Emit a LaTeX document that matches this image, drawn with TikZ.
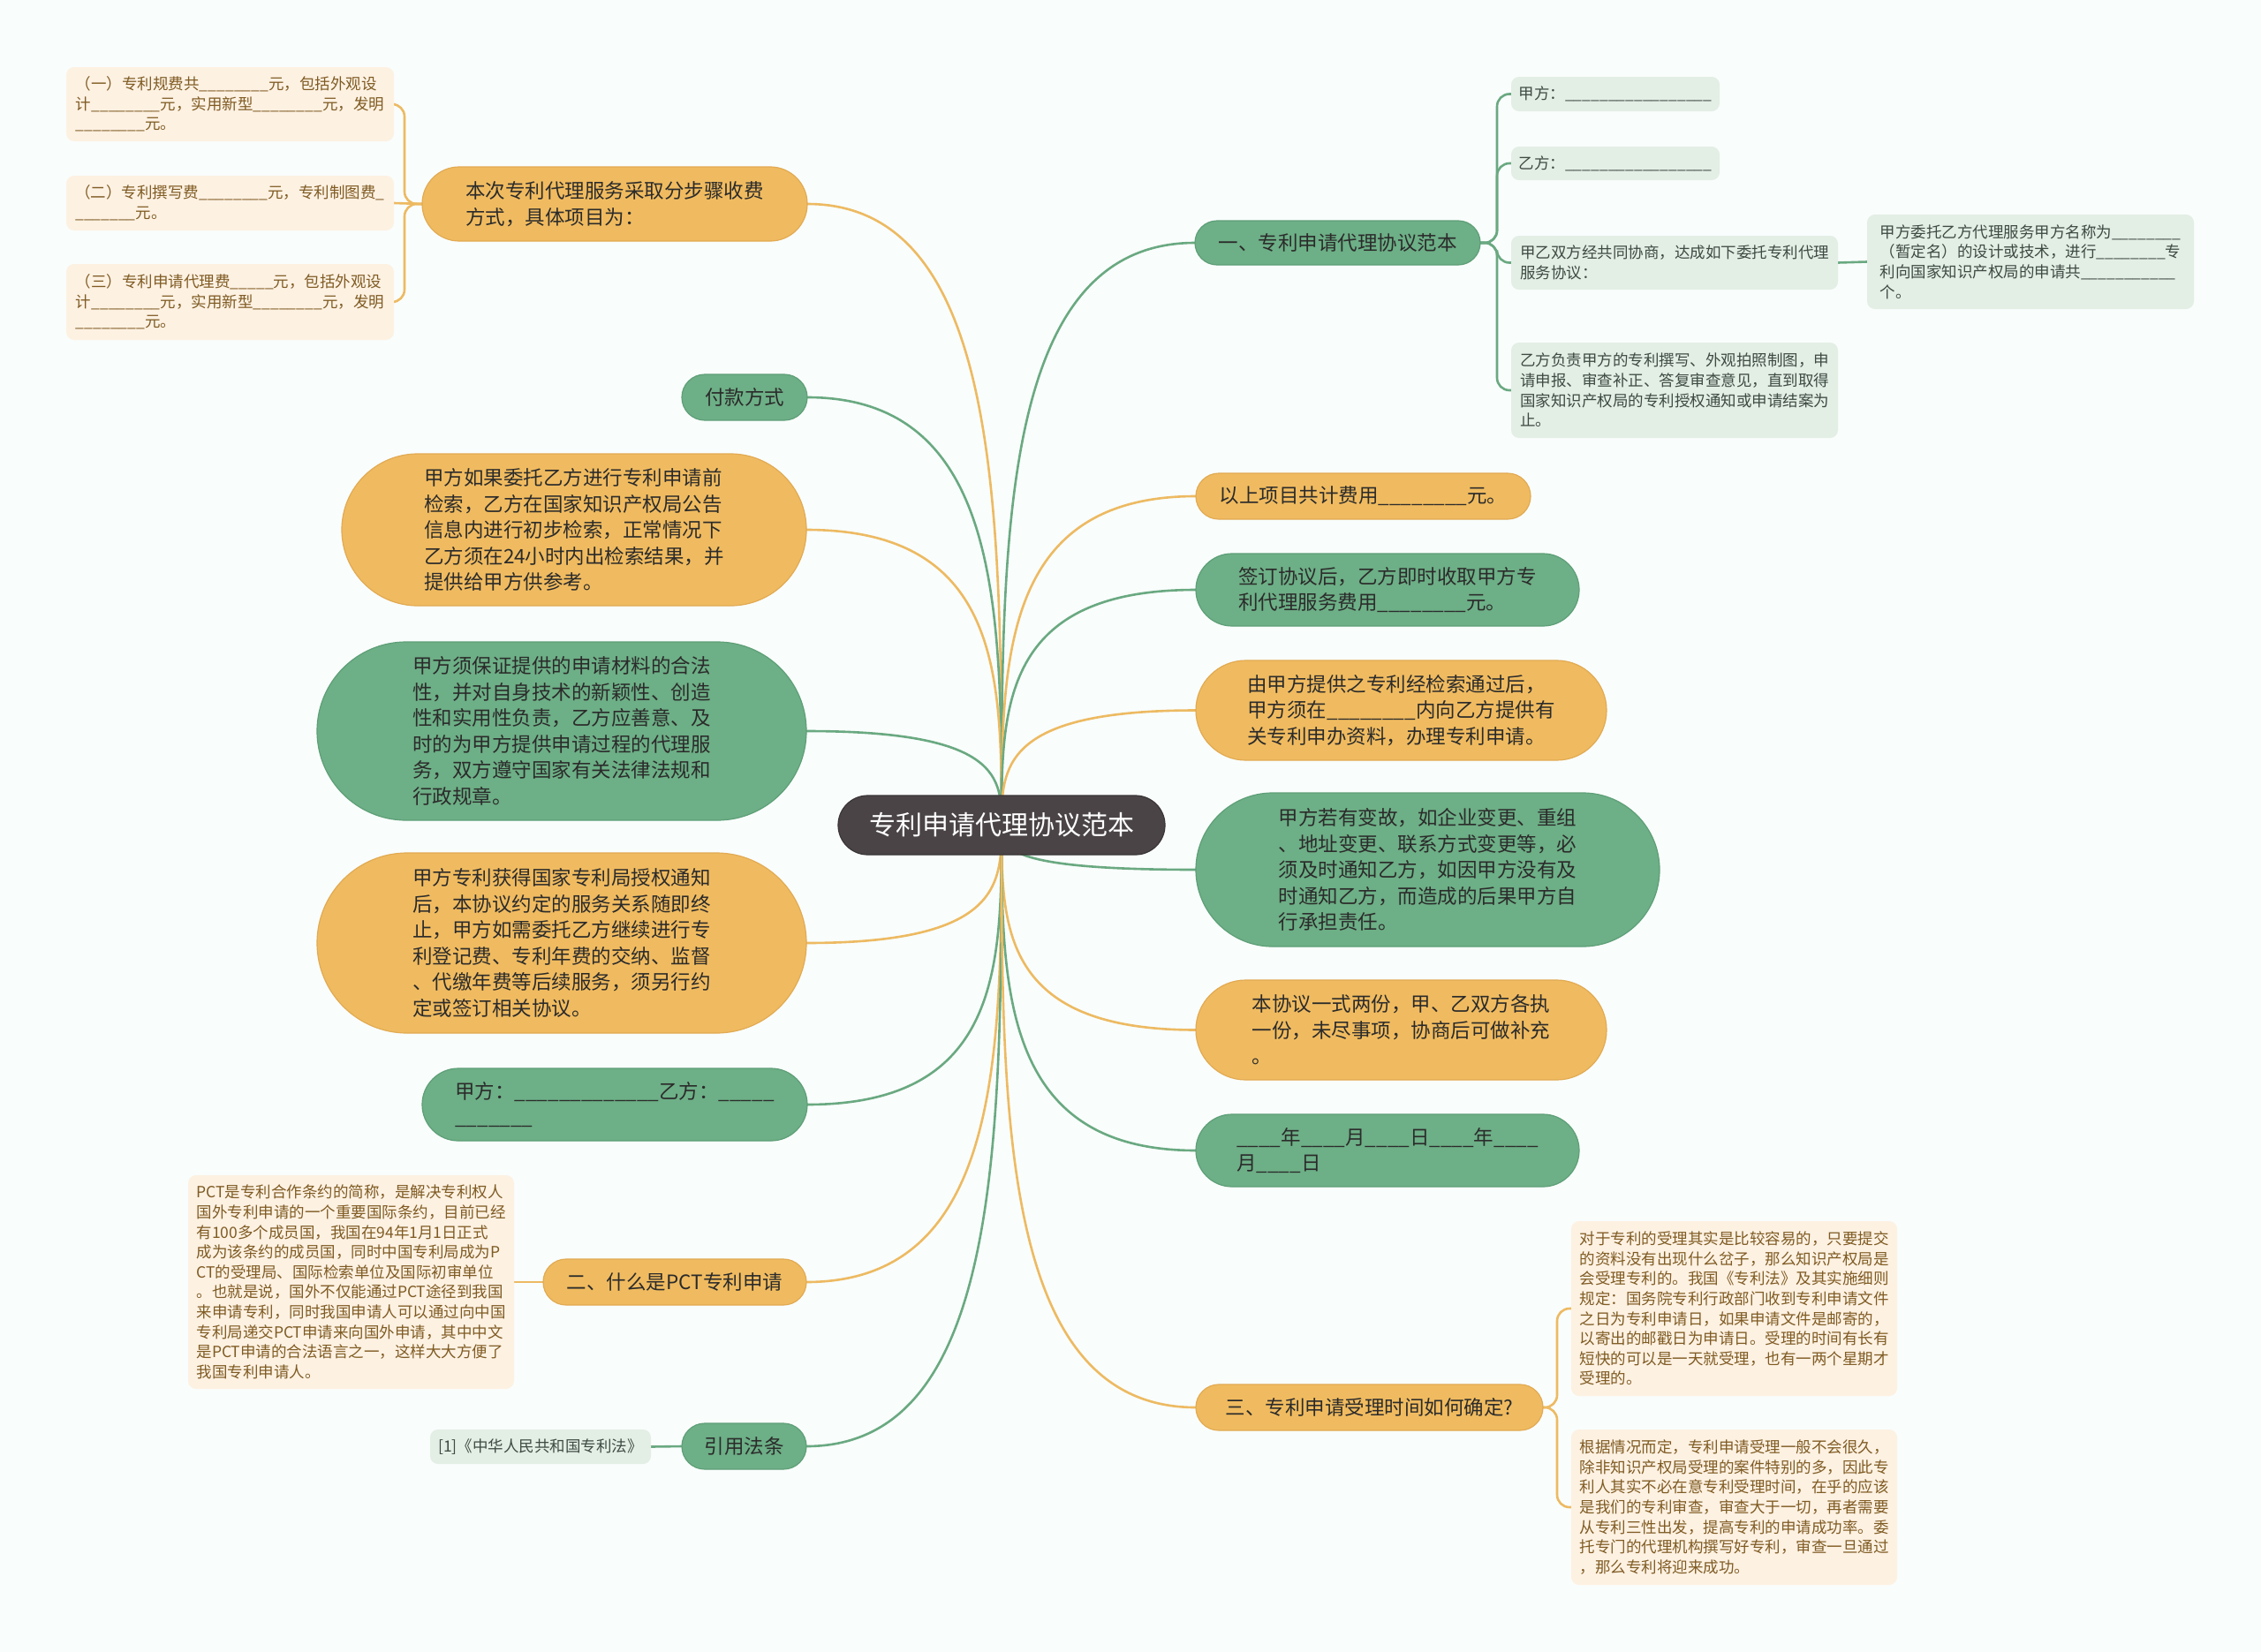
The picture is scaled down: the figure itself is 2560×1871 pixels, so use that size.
\documentclass[tikz,border=0pt]{standalone}
\usepackage{fontspec}
\setmainfont{Noto Sans CJK SC}
\usetikzlibrary{calc}
\ExplSyntaxOn
\NewDocumentCommand \ublank { m } { \prg_replicate:nn {#1} { \textunderscore } }
\ExplSyntaxOff
\definecolor{cBG}{HTML}{F9FDFC}
\definecolor{cO}{HTML}{F0BB60}
\definecolor{cOd}{HTML}{E2AA52}
\definecolor{cOl}{HTML}{EDBA62}
\definecolor{cG}{HTML}{6DAF86}
\definecolor{cGd}{HTML}{5E9F77}
\definecolor{cGl}{HTML}{6AA981}
\definecolor{cC}{HTML}{4A4446}
\definecolor{cCd}{HTML}{3A3536}
\definecolor{cT}{HTML}{2B2B2B}
\definecolor{cLO}{HTML}{FDF1E2}
\definecolor{cLOt}{HTML}{7F5B23}
\definecolor{cLG}{HTML}{E3EEE5}
\definecolor{cLGt}{HTML}{3D4B42}
\pgfdeclarelayer{bgl}
\pgfdeclarelayer{background}
\pgfsetlayers{bgl,background,main}
\tikzset{
  every node/.style={inner sep=0pt, outer sep=0pt},
  pillO/.style 2 args={rectangle, fill=cO, draw=cOd, line width=1.2, minimum width=#1, minimum height=#2, rounded corners=#2/2, text=cT, align=left, font=\fontsize{22.5}{29.5}\selectfont},
  pillG/.style 2 args={rectangle, fill=cG, draw=cGd, line width=1.2, minimum width=#1, minimum height=#2, rounded corners=#2/2, text=cT, align=left, font=\fontsize{22.5}{29.5}\selectfont},
  leafO/.style 2 args={rectangle, fill=cLO, minimum width=#1, minimum height=#2, rounded corners=9, text=cLOt, align=left, font=\fontsize{17.5}{22.6}\selectfont},
  leafG/.style 2 args={rectangle, fill=cLG, minimum width=#1, minimum height=#2, rounded corners=9, text=cLGt, align=left, font=\fontsize{17.5}{22.6}\selectfont},
  hubnode/.style={rectangle, fill=cC, draw=cCd, line width=1.2, minimum width=370, minimum height=67, rounded corners=33.5, text=white, font=\fontsize{30}{36}\selectfont},
  eO/.style={draw=cOl, line width=2.6},
  eG/.style={draw=cGl, line width=2.6},
}
\newcommand\mainbranch[2]{%
  \path (#2) coordinate (tt);
  \path (c.center|-tt) coordinate (tc);
  \draw[#1] (c.center) .. controls ($(c.center)!0.5!(tc)$) and (tc) .. (tt);}
\begin{document}
\begin{tikzpicture}[x=1pt,y=-1pt]
\begin{pgfonlayer}{bgl}
\fill[cBG] (0,0) rectangle (2560,1871);
\end{pgfonlayer}
\useasboundingbox (0,0) rectangle (2560,1871);

% center
\node[hubnode] (c) at (1134,934.5) {专利申请代理协议范本};

% left side
\node[leafO={371}{84}] (l1) at (260.5,118) {（一）专利规费共\ublank{8}元，包括外观设\\计\ublank{8}元，实用新型\ublank{8}元，发明\\\ublank{8}元。};
\node[leafO={371}{62}] (l2) at (260.5,230) {（二）专利撰写费\ublank{8}元，专利制图费\ublank{1}\\\ublank{7}元。};
\node[leafO={371}{86}] (l3) at (260.5,342) {（三）专利申请代理费\ublank{5}元，包括外观设\\计\ublank{8}元，实用新型\ublank{8}元，发明\\\ublank{8}元。};
\node[pillO={436}{84}] (fee) at (696,231) {本次专利代理服务采取分步骤收费\\方式，具体项目为：};
\node[pillG={142}{52}] (pay) at (843,450) {付款方式};
\node[pillO={526}{172}] (search) at (650,600) {甲方如果委托乙方进行专利申请前\\检索，乙方在国家知识产权局公告\\信息内进行初步检索，正常情况下\\乙方须在24小时内出检索结果，并\\提供给甲方供参考。};
\node[pillG={554}{202}] (guar) at (636,828) {甲方须保证提供的申请材料的合法\\性，并对自身技术的新颖性、创造\\性和实用性负责，乙方应善意、及\\时的为甲方提供申请过程的代理服\\务，双方遵守国家有关法律法规和\\行政规章。};
\node[pillO={554}{204}] (grant) at (636,1068) {甲方专利获得国家专利局授权通知\\后，本协议约定的服务关系随即终\\止，甲方如需委托乙方继续进行专\\利登记费、专利年费的交纳、监督\\、代缴年费等后续服务，须另行约\\定或签订相关协议。};
\node[pillG={436}{82}] (sign) at (696,1251) {甲方：\ublank{13}乙方：\ublank{5}\\\ublank{7}};
\node[leafO={369}{242}] (lpct) at (397.5,1452) {PCT是专利合作条约的简称，是解决专利权人\\国外专利申请的一个重要国际条约，目前已经\\有100多个成员国，我国在94年1月1日正式\\成为该条约的成员国，同时中国专利局成为P\\CT的受理局、国际检索单位及国际初审单位\\。也就是说，国外不仅能通过PCT途径到我国\\来申请专利，同时我国申请人可以通过向中国\\专利局递交PCT申请来向国外申请，其中中文\\是PCT申请的合法语言之一，这样大大方便了\\我国专利申请人。};
\node[pillO={298}{52}] (pctp) at (764,1452) {二、什么是PCT专利申请};
\node[leafG={250}{39}] (llaw) at (612,1638.5) {[1]《中华人民共和国专利法》};
\node[pillG={141}{52}] (law) at (842.5,1638) {引用法条};

% right side
\node[pillG={323}{50}] (one) at (1514.5,275) {一、专利申请代理协议范本};
\node[leafG={236}{39}] (r1) at (1829,106.5) {甲方：\ublank{17}};
\node[leafG={236}{38}] (r2) at (1829,185) {乙方：\ublank{17}};
\node[leafG={370}{61}] (r3) at (1896,297.5) {甲乙双方经共同协商，达成如下委托专利代理\\服务协议：};
\node[leafG={370}{108}] (r4) at (1896,442) {乙方负责甲方的专利撰写、外观拍照制图，申\\请申报、审查补正、答复审查意见，直到取得\\国家知识产权局的专利授权通知或申请结案为\\止。};
\node[leafG={370}{107}] (r5) at (2299,296.5) {甲方委托乙方代理服务甲方名称为\ublank{8}\\（暂定名）的设计或技术，进行\ublank{8}专\\利向国家知识产权局的申请共\ublank{11}\\个。};
\node[pillO={379}{52}] (total) at (1543.5,562) {以上项目共计费用\ublank{8}元。};
\node[pillG={434}{82}] (collect) at (1571,668) {签订协议后，乙方即时收取甲方专\\利代理服务费用\ublank{8}元。};
\node[pillO={465}{113}] (provide) at (1586.5,804.5) {由甲方提供之专利经检索通过后，\\甲方须在\ublank{8}内向乙方提供有\\关专利申办资料，办理专利申请。};
\node[pillG={525}{174}] (change) at (1616.5,985) {甲方若有变故，如企业变更、重组\\、地址变更、联系方式变更等，必\\须及时通知乙方，如因甲方没有及\\时通知乙方，而造成的后果甲方自\\行承担责任。};
\node[pillO={465}{113}] (copies) at (1586.5,1166.5) {本协议一式两份，甲、乙双方各执\\一份，未尽事项，协商后可做补充\\。};
\node[pillG={434}{82}] (date) at (1571,1303) {\ublank{4}年\ublank{4}月\ublank{4}日\ublank{4}年\ublank{4}\\月\ublank{4}日};
\node[pillO={393}{52}] (three) at (1550.5,1594) {三、专利申请受理时间如何确定?};
\node[leafO={369}{198}] (r6) at (1963.5,1482) {对于专利的受理其实是比较容易的，只要提交\\的资料没有出现什么岔子，那么知识产权局是\\会受理专利的。我国《专利法》及其实施细则\\规定：国务院专利行政部门收到专利申请文件\\之日为专利申请日，如果申请文件是邮寄的，\\以寄出的邮戳日为申请日。受理的时间有长有\\短快的可以是一天就受理，也有一两个星期才\\受理的。};
\node[leafO={369}{176}] (r7) at (1963.5,1707) {根据情况而定，专利申请受理一般不会很久，\\除非知识产权局受理的案件特别的多，因此专\\利人其实不必在意专利受理时间，在乎的应该\\是我们的专利审查，审查大于一切，再者需要\\从专利三性出发，提高专利的申请成功率。委\\托专门的代理机构撰写好专利，审查一旦通过\\，那么专利将迎来成功。};

% connectors
\begin{pgfonlayer}{background}
\mainbranch{eO}{fee.east}
\mainbranch{eG}{pay.east}
\mainbranch{eO}{search.east}
\mainbranch{eG}{guar.east}
\mainbranch{eO}{grant.east}
\mainbranch{eG}{sign.east}
\mainbranch{eO}{pctp.east}
\mainbranch{eG}{law.east}
\mainbranch{eG}{one.west}
\mainbranch{eO}{total.west}
\mainbranch{eG}{collect.west}
\mainbranch{eO}{provide.west}
\mainbranch{eG}{change.west}
\mainbranch{eO}{copies.west}
\mainbranch{eG}{date.west}
\mainbranch{eO}{three.west}
\draw[eO, rounded corners=14] (fee.west) -- ++(-20,0) |- (l1.east);
\draw[eO] (fee.west) -- (l2.east);
\draw[eO, rounded corners=14] (fee.west) -- ++(-20,0) |- (l3.east);
\draw[eO] (pctp.west) -- (lpct.east);
\draw[eG] (law.west) -- (llaw.east);
\draw[eG, rounded corners=14] (one.east) -- ++(19,0) |- (r1.west);
\draw[eG, rounded corners=14] (one.east) -- ++(19,0) |- (r2.west);
\draw[eG, rounded corners=14] (one.east) -- ++(19,0) |- (r3.west);
\draw[eG, rounded corners=14] (one.east) -- ++(19,0) |- (r4.west);
\draw[eG] (r3.east) -- (r5.west);
\draw[eO, rounded corners=14] (three.east) -- ++(16,0) |- (r6.west);
\draw[eO, rounded corners=14] (three.east) -- ++(16,0) |- (r7.west);
\end{pgfonlayer}
\end{tikzpicture}
\end{document}
